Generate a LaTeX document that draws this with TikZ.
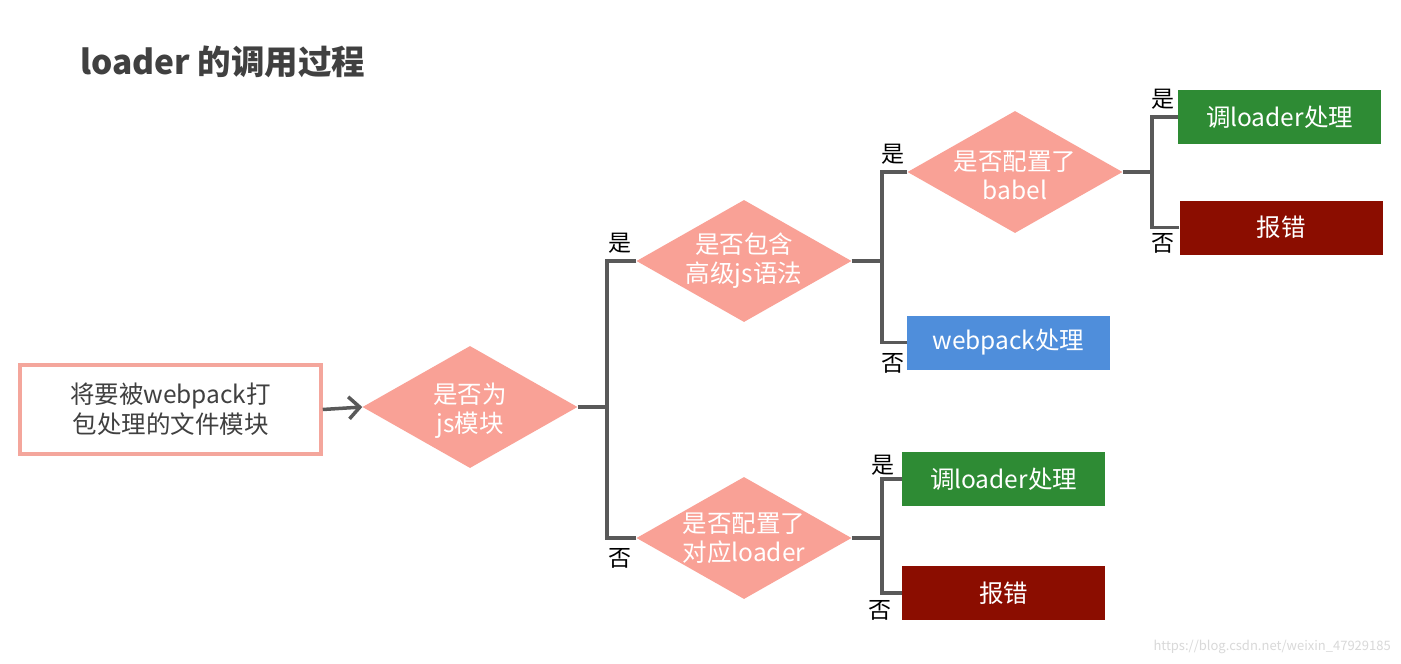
\documentclass[tikz,border=0pt]{standalone}
\usepackage{fontspec}
\setmainfont{Noto Sans CJK SC}
\usetikzlibrary{shapes.geometric,arrows.meta}
\definecolor{pinkfill}{HTML}{F9A196}
\definecolor{pinkline}{HTML}{F4A69C}
\definecolor{lineg}{HTML}{595959}
\definecolor{titleg}{HTML}{404040}
\definecolor{greenbox}{HTML}{2E8B34}
\definecolor{redbox}{HTML}{8B0D00}
\definecolor{bluebox}{HTML}{4F8EDB}
\tikzset{
  decision/.style={diamond, fill=pinkfill, draw=none, minimum width=215pt, minimum height=122pt, inner sep=0pt},
  dtext/.style={text=white, align=center, inner sep=0pt, font=\fontsize{24.5}{29}\selectfont},
  actbox/.style={rectangle, draw=none, minimum width=203pt, minimum height=54pt, inner sep=0pt, text=white, font=\fontsize{24.5}{28}\selectfont},
  conn/.style={draw=lineg, line width=3.5pt},
  yn/.style={font=\fontsize{23}{26}\selectfont, text=black, inner sep=0pt}
}
\begin{document}
\begin{tikzpicture}[x=1pt,y=-1pt]
\useasboundingbox (0,0) rectangle (1401,664);
\fill[white] (0,0) rectangle (1401,664);
% title
\node[anchor=west, text=titleg, font=\fontsize{33.5}{38}\selectfont\bfseries, inner sep=0pt] (title) at (80,62) {loader 的调用过程};
% source box
\node[rectangle, draw=pinkline, line width=3.5pt, fill=white, minimum width=301pt, minimum height=89pt, align=center, text=titleg, font=\fontsize{24.5}{30}\selectfont] (src) at (170.5,409.5) {将要被webpack打\\包处理的文件模块};
% diamonds
\node[decision] (d1) at (470,407) {};
\node[dtext] (d1t) at ([yshift=-4pt]d1.center) {是否为\\js模块};
\node[decision] (d2) at (744,261) {};
\node[dtext] (d2t) at (d2.center) {是否包含\\高级js语法};
\node[decision] (d3) at (744,538) {};
\node[dtext] (d3t) at (d3.center) {是否配置了\\对应loader};
\node[decision] (d4) at (1015,172) {};
\node[dtext] (d4t) at ([yshift=-3pt]d4.center) {是否配置了\\babel};
% action boxes
\node[actbox, fill=bluebox] (wp) at (1008.5,342.5) {webpack处理};
\node[actbox, fill=greenbox] (g1) at (1279.5,117) {调loader处理};
\node[actbox, fill=redbox] (r1) at (1281,227.5) {报错};
\node[actbox, fill=greenbox] (g2) at (1003.5,479) {调loader处理};
\node[actbox, fill=redbox] (r2) at (1003.5,593) {报错};
% junctions
\coordinate (j1) at (607,407);
\coordinate (j2) at (882,261);
\coordinate (j3) at (1152,172);
\coordinate (j4) at (882,538);
% connectors
\draw[conn, -{Straight Barb[length=11pt,width=22pt]}] (src.east) -- (d1.west);
\draw[conn] (d1.east) -- (j1);
\draw[conn] (d2.west) -| (j1);
\draw[conn] (d3.west) -| (j1);
\draw[conn] (d2.east) -- (j2);
\draw[conn] (d4.west) -| (j2);
\draw[conn] (wp.west) -| (j2);
\draw[conn] (d4.east) -- (j3);
\draw[conn] (g1.west) -| (j3);
\draw[conn] (r1.west) -| (j3);
\draw[conn] (d3.east) -- (j4);
\draw[conn] (g2.west) -| (j4);
\draw[conn] (r2.west) -| (j4);
% yes/no labels
\node[yn] (y1) at (620,243) {是};
\node[yn] (n1) at (620,558) {否};
\node[yn] (y2) at (893,154) {是};
\node[yn] (n2) at (893,363) {否};
\node[yn] (y3) at (1163,99) {是};
\node[yn] (n3) at (1163,243) {否};
\node[yn] (y4) at (883,465) {是};
\node[yn] (n4) at (880,610) {否};
% watermark
\node[anchor=east, text=black!15, font=\fontsize{13}{15}\selectfont, inner sep=0pt] (wm) at (1391,647) {https://blog.csdn.net/weixin\_47929185};
\end{tikzpicture}
\end{document}
